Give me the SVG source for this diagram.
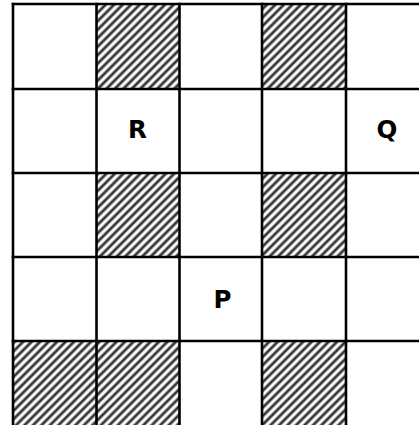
<svg xmlns="http://www.w3.org/2000/svg" width="419" height="425" viewBox="0 0 419 425">
  <defs>
    <pattern id="hatch" patternUnits="userSpaceOnUse" width="6" height="6" patternTransform="rotate(45)">
      <rect width="6" height="6" fill="#ffffff"/>
      <line x1="0" y1="0" x2="0" y2="6" stroke="#333" stroke-width="2.8"/>
      <line x1="6" y1="0" x2="6" y2="6" stroke="#333" stroke-width="2.8"/>
    </pattern>
    <style>
      .hatched { fill: url(#hatch); stroke: #555; stroke-width: 1; }
      .grid line { stroke: #000; stroke-width: 2.6; }
      .label { font-family: "DejaVu Sans", Verdana, sans-serif; font-weight: bold; font-size: 24.5px; fill: #000; text-anchor: middle; }
    </style>
  </defs>
  <rect width="419" height="425" fill="#ffffff"/>
  <g id="hatched-cells">
    <rect class="hatched" x="96.5" y="4" width="83" height="85"/>
    <rect class="hatched" x="262" y="4" width="84" height="85"/>
    <rect class="hatched" x="96.5" y="173" width="83" height="84"/>
    <rect class="hatched" x="262" y="173" width="84" height="84"/>
    <rect class="hatched" x="13" y="341" width="83.5" height="86"/>
    <rect class="hatched" x="96.5" y="341" width="83" height="86"/>
    <rect class="hatched" x="262" y="341" width="84" height="86"/>
  </g>
  <g class="grid" id="grid-lines">
    <line x1="11.7" y1="4" x2="419" y2="4"/>
    <line x1="11.7" y1="89" x2="419" y2="89"/>
    <line x1="11.7" y1="173" x2="419" y2="173"/>
    <line x1="11.7" y1="257" x2="419" y2="257"/>
    <line x1="11.7" y1="341" x2="419" y2="341"/>
    <line x1="13" y1="2.7" x2="13" y2="425"/>
    <line x1="96.5" y1="2.7" x2="96.5" y2="425"/>
    <line x1="179.5" y1="2.7" x2="179.5" y2="425"/>
    <line x1="262" y1="2.7" x2="262" y2="425"/>
    <line x1="346" y1="2.7" x2="346" y2="425"/>
  </g>
  <g id="label-R"><text class="label" x="137.5" y="138">R</text></g>
  <g id="label-Q"><text class="label" x="387" y="138">Q</text></g>
  <g id="label-P"><text class="label" x="222.5" y="307.5">P</text></g>
</svg>
